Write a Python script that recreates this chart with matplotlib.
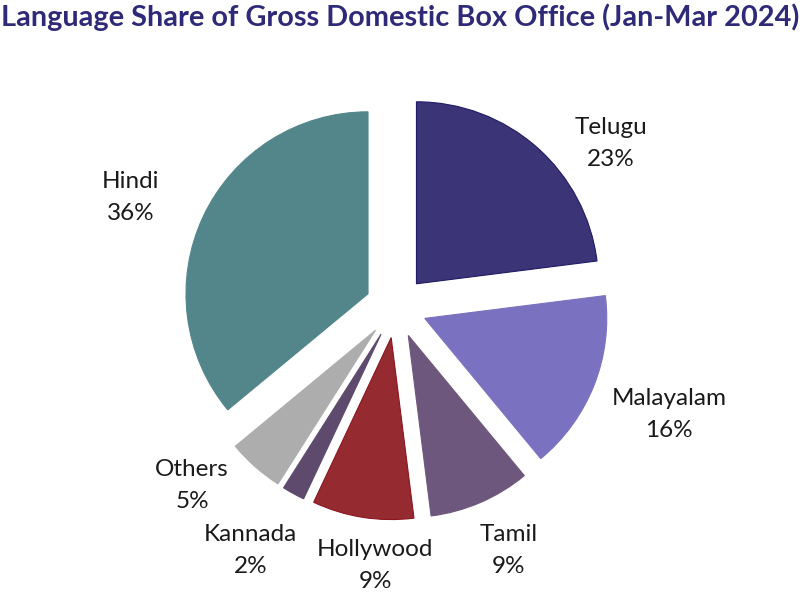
import matplotlib
matplotlib.use("Agg")
import matplotlib.pyplot as plt

# data (clockwise from 12 o'clock)
languages = ["Telugu", "Malayalam", "Tamil", "Hollywood", "Kannada", "Others", "Hindi"]
shares = [23, 16, 9, 9, 2, 5, 36]
colors = ["#3b3477", "#7a72c0", "#6e577c", "#952b30", "#5e4a6d", "#adadad", "#52868a"]
edges = ["#1f1a66", "#7a72c0", "#6e577c", "#8a1520", "#5e4a6d", "#adadad", "#52868a"]

# label anchor points (pie radius = 1)
label_pos = [(1.18, 0.90), (1.50, -0.59), (0.62, -1.34), (-0.115, -1.42),
             (-0.80, -1.34), (-1.12, -0.98), (-1.46, 0.60)]

plt.rcParams['font.family'] = ['Lato', 'DejaVu Sans']

fig = plt.figure(figsize=(8, 6.04), dpi=100)
ax = fig.add_axes([0, 0, 1, 1])

wedges, _ = ax.pie(shares, colors=colors, startangle=90, counterclock=False,
                   explode=[0.17] * len(shares), radius=1.0,
                   wedgeprops=dict(linewidth=0.8))
for w, ec in zip(wedges, edges):
    w.set_edgecolor(ec)

for name, val, (x, y) in zip(languages, shares, label_pos):
    ax.text(x, y, f"{name}\n{val}%", ha="center", va="center",
            fontsize=17.5, color="#1a1a1a", linespacing=1.65)

ax.set_xlim(-396 / 182, 404 / 182)
ax.set_ylim(-297 / 182, 307 / 182)
ax.set_aspect("equal")
ax.axis("off")

fig.text(0.5, 0.971, "Language Share of Gross Domestic Box Office (Jan-Mar 2024)",
         ha="center", va="center", fontsize=20.8, fontweight="bold", color="#2e2a78")

fig.savefig("out.png", dpi=100)
